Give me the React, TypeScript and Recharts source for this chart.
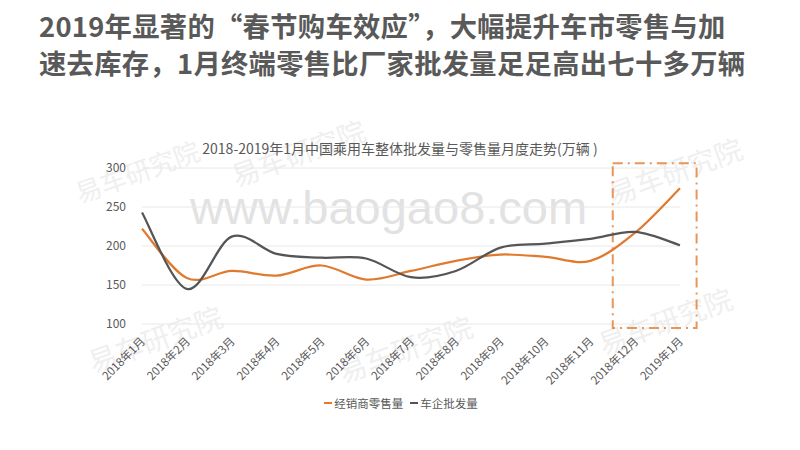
import React from "react";
import { LineChart, Line, XAxis, YAxis, CartesianGrid, Legend, ReferenceArea } from "recharts";

const months = [
  "2018年1月", "2018年2月", "2018年3月", "2018年4月", "2018年5月", "2018年6月", "2018年7月",
  "2018年8月", "2018年9月", "2018年10月", "2018年11月", "2018年12月", "2019年1月",
];
const retail = [222, 159, 168, 162, 175, 157, 168, 181, 189, 186, 181, 217, 274];
const wholesale = [243, 145, 212, 190, 185, 184, 160, 168, 198, 203, 209, 218, 201];
const yTicks = [100, 150, 200, 250, 300];

const data = months.map((m, i) => ({ month: m, retail: retail[i], wholesale: wholesale[i] }));

const ORANGE = "#E07A2E";
const DARK = "#555555";
const TEXT = "#595959";
const CJK = '"Noto Sans CJK SC", "Noto Sans", sans-serif';

// Excel-like smoothing (Catmull-Rom through every point)
function smoothCurve(context: any) {
  let pts: number[][] = [];
  return {
    areaStart() {},
    areaEnd() {},
    lineStart() {
      pts = [];
    },
    point(x: number, y: number) {
      pts.push([x, y]);
    },
    lineEnd() {
      if (!pts.length) return;
      context.moveTo(pts[0][0], pts[0][1]);
      for (let i = 0; i < pts.length - 1; i++) {
        const p0 = pts[i - 1] || pts[i];
        const p1 = pts[i];
        const p2 = pts[i + 1];
        const p3 = pts[i + 2] || p2;
        context.bezierCurveTo(
          p1[0] + (p2[0] - p0[0]) / 6,
          p1[1] + (p2[1] - p0[1]) / 6,
          p2[0] - (p3[0] - p1[0]) / 6,
          p2[1] - (p3[1] - p1[1]) / 6,
          p2[0],
          p2[1]
        );
      }
    },
  };
}

function MonthTick({ x, y, payload }: any) {
  return (
    <g transform={`translate(${x + 4},${y + 10}) rotate(-45)`}>
      <text textAnchor="end" fontSize={11.5} fill={TEXT} fontFamily={CJK}>
        {payload.value}
      </text>
    </g>
  );
}

function DashBox({ x, y, width, height }: any) {
  return (
    <rect
      x={x - width / 2}
      y={y}
      width={width * 1.87}
      height={height}
      fill="none"
      stroke="#E8955A"
      strokeWidth={2}
      strokeDasharray="10 5 2 5"
    />
  );
}

function LegendBox({ payload }: any) {
  return (
    <div style={{ display: "flex", justifyContent: "center", gap: 7, fontFamily: CJK, fontSize: 11.5, color: TEXT, paddingLeft: 2 }}>
      {(payload || []).map((p: any) => (
        <span key={p.value} style={{ display: "flex", alignItems: "center" }}>
          <span style={{ width: 8, height: 2.5, background: p.color, marginRight: 2 }} />
          {p.value}
        </span>
      ))}
    </div>
  );
}

const marks = [
  { left: 72, top: 152, size: 26 },
  { left: 228, top: 132, size: 28 },
  { left: 605, top: 150, size: 28 },
  { left: 85, top: 318, size: 28 },
  { left: 335, top: 328, size: 28 },
  { left: 595, top: 300, size: 28 },
];

export default function App() {
  return (
    <div style={{ position: "absolute", left: 0, top: 0, width: 800, height: 450, background: "#fff", overflow: "hidden" }}>
      <div
        style={{
          position: "absolute",
          left: 39,
          top: 7,
          fontFamily: CJK,
          fontWeight: 700,
          fontSize: 27.3,
          lineHeight: "37px",
          letterSpacing: 0.3,
          color: TEXT,
          whiteSpace: "nowrap",
        }}
      >
        <div>2019年显著的“春节购车效应”，大幅提升车市零售与加</div>
        <div>速去库存，1月终端零售比厂家批发量足足高出七十多万辆</div>
      </div>

      {marks.map((m, i) => (
        <div
          key={i}
          style={{
            position: "absolute",
            left: m.left,
            top: m.top,
            fontFamily: CJK,
            fontSize: m.size,
            color: "#efefef",
            transform: "rotate(-20deg)",
            whiteSpace: "nowrap",
          }}
        >
          易车研究院
        </div>
      ))}
      <div
        style={{
          position: "absolute",
          left: 190,
          top: 180,
          fontFamily: '"Liberation Sans", sans-serif',
          fontSize: 47,
          color: "#e2e2e2",
          whiteSpace: "nowrap",
        }}
      >
        www.baogao8.com
      </div>

      <div
        style={{
          position: "absolute",
          left: 0,
          width: 800,
          top: 138,
          textAlign: "center",
          fontFamily: CJK,
          fontSize: 14,
          color: TEXT,
        }}
      >
        2018-2019年1月中国乘用车整体批发量与零售量月度走势(万辆 )
      </div>

      <div style={{ position: "absolute", left: 0, top: 0 }}>
        <LineChart width={800} height={450} data={data} margin={{ top: 168, right: 120, left: 102, bottom: 42 }}>
          <CartesianGrid vertical={false} stroke="#e8e8e8" />
          <XAxis
            dataKey="month"
            axisLine={false}
            tickLine={false}
            interval={0}
            height={60}
            tick={<MonthTick />}
          />
          <YAxis
            domain={[100, 300]}
            ticks={yTicks}
            axisLine={false}
            tickLine={false}
            width={40}
            tickMargin={10}
            tick={{ fontSize: 12, fill: TEXT, fontFamily: CJK }}
          />
          <ReferenceArea
            x1="2018年12月"
            x2="2019年1月"
            y1={95}
            y2={306}
            ifOverflow="visible"
            shape={<DashBox />}
          />
          <Legend
            verticalAlign="bottom"
            height={24}
            wrapperStyle={{ left: 0, width: 800, top: 395 }}
            content={<LegendBox />}
          />
          <Line
            type={smoothCurve as any}
            dataKey="retail"
            name="经销商零售量"
            stroke={ORANGE}
            strokeWidth={2.25}
            dot={false}
            isAnimationActive={false}
          />
          <Line
            type={smoothCurve as any}
            dataKey="wholesale"
            name="车企批发量"
            stroke={DARK}
            strokeWidth={2.25}
            dot={false}
            isAnimationActive={false}
          />
        </LineChart>
      </div>
    </div>
  );
}
